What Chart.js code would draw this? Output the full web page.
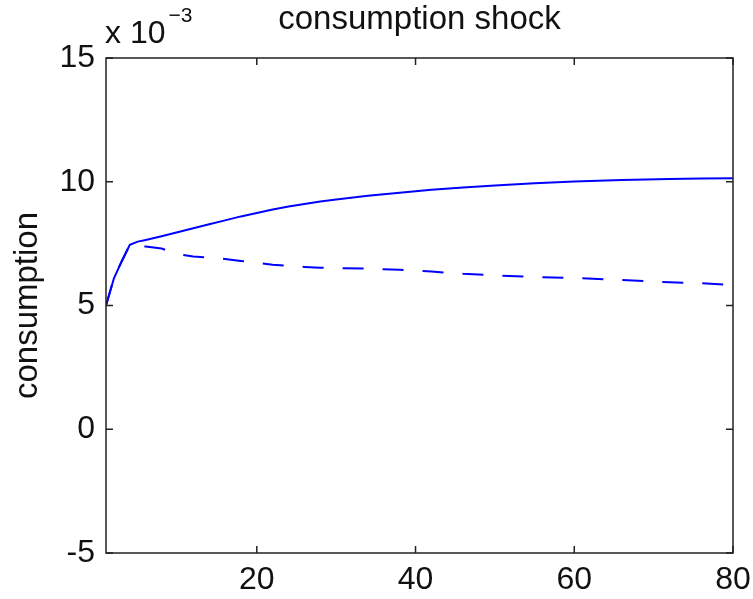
<!DOCTYPE html>
<html>
<head>
<meta charset="utf-8">
<title>consumption shock</title>
<script src="https://cdn.jsdelivr.net/npm/chart.js@4.4.0/dist/chart.umd.min.js"></script>
<style>
  body { margin: 0; background: #fff; }
  #chart { display: block; }
</style>
</head>
<body>
<canvas id="chart" width="753" height="599"></canvas>
<script>
// periods after the shock, responses are in units of 1e-3
var periods = [1, 2, 3, 4, 5, 6, 8, 10, 12, 14, 16, 18, 20, 22, 24, 26, 28, 30, 34, 38, 42, 46, 50, 55, 60, 66, 72, 76, 80];
// solid line
var consSolid = [5.0, 6.1, 6.8, 7.45, 7.58, 7.65, 7.8, 7.96, 8.12, 8.28, 8.44, 8.6, 8.74, 8.88, 9.0, 9.1, 9.2, 9.28, 9.43, 9.56, 9.68, 9.77, 9.85, 9.94, 10.01, 10.07, 10.11, 10.13, 10.14];
// dashed line
var consDashed = [5.0, 6.1, 6.8, 7.45, 7.42, 7.38, 7.3, 7.08, 6.98, 6.93, 6.88, 6.8, 6.72, 6.65, 6.6, 6.56, 6.53, 6.51, 6.49, 6.44, 6.37, 6.28, 6.22, 6.15, 6.11, 6.03, 5.94, 5.9, 5.82];

var xTicks = [20, 40, 60, 80];
var yTicks = [-5, 0, 5, 10, 15];

var titleText = 'consumption shock';
var yLabel = 'consumption';
var fontName = '"Liberation Sans", Arial, Helvetica, sans-serif';

function toPoints(xs, ys) {
    return xs.map(function (x, i) { return { x: x, y: ys[i] }; });
}

// matlab style box with inward ticks on all sides, plus title, ylabel and exponent
var matlabAxes = {
    id: 'matlabAxes',
    afterDatasetsDraw: function (chart) {
        var ctx = chart.ctx;
        var a = chart.chartArea;
        var sx = chart.scales.x, sy = chart.scales.y;
        var len = 7;
        ctx.save();
        ctx.strokeStyle = '#222';
        ctx.lineWidth = 1.5;
        ctx.strokeRect(a.left, a.top, a.right - a.left, a.bottom - a.top);
        ctx.beginPath();
        xTicks.forEach(function (v) {
            var px = sx.getPixelForValue(v);
            ctx.moveTo(px, a.bottom); ctx.lineTo(px, a.bottom - len);
            ctx.moveTo(px, a.top); ctx.lineTo(px, a.top + len);
        });
        yTicks.forEach(function (v) {
            var py = sy.getPixelForValue(v);
            ctx.moveTo(a.left, py); ctx.lineTo(a.left + len, py);
            ctx.moveTo(a.right, py); ctx.lineTo(a.right - len, py);
        });
        ctx.stroke();

        ctx.fillStyle = '#111';
        // title
        ctx.font = '33px ' + fontName;
        ctx.textAlign = 'center';
        ctx.textBaseline = 'alphabetic';
        ctx.fillText(titleText, (a.left + a.right) / 2, 29);

        // y label
        ctx.save();
        ctx.translate(28, (a.top + a.bottom) / 2);
        ctx.rotate(-Math.PI / 2);
        ctx.textBaseline = 'middle';
        ctx.fillText(yLabel, 0, 0);
        ctx.restore();

        // x 10^-3
        ctx.textAlign = 'left';
        ctx.font = '32px ' + fontName;
        ctx.fillText('x 10', a.left - 1, 43);
        var w = ctx.measureText('x 10').width;
        ctx.font = '21px ' + fontName;
        ctx.fillText('\u22123', a.left - 1 + w + 3, 22);
        ctx.restore();
    }
};

var ctx = document.getElementById('chart').getContext('2d');
var chart = new Chart(ctx, {
    type: 'line',
    data: {
        datasets: [{
            label: 'solid',
            data: toPoints(periods, consSolid),
            borderColor: '#0000ff',
            borderWidth: 2,
            pointRadius: 0,
            tension: 0,
            fill: false
        }, {
            label: 'dashed',
            data: toPoints(periods, consDashed),
            borderColor: '#0000ff',
            borderWidth: 2,
            borderDash: [21, 19],
            pointRadius: 0,
            tension: 0,
            fill: false
        }]
    },
    options: {
        responsive: false,
        animation: false,
        devicePixelRatio: 1,
        layout: { padding: { top: 58, right: 20, left: 0, bottom: 0 } },
        plugins: {
            legend: { display: false },
            tooltip: { enabled: false }
        },
        scales: {
            x: {
                type: 'linear',
                min: 1,
                max: 80,
                grid: { display: false, drawTicks: false },
                border: { display: false },
                ticks: {
                    color: '#111',
                    padding: 8,
                    maxRotation: 0,
                    font: { family: fontName, size: 32 }
                },
                afterBuildTicks: function (scale) {
                    scale.ticks = xTicks.map(function (v) { return { value: v }; });
                },
                afterFit: function (scale) {
                    scale.height = 46;
                    scale.paddingLeft = 0;
                    scale.paddingRight = 0;
                }
            },
            y: {
                min: -5,
                max: 15,
                grid: { display: false, drawTicks: false },
                border: { display: false },
                ticks: {
                    color: '#111',
                    padding: 11,
                    font: { family: fontName, size: 32 }
                },
                afterBuildTicks: function (scale) {
                    scale.ticks = yTicks.map(function (v) { return { value: v }; });
                },
                afterFit: function (scale) {
                    scale.width = 106;
                    scale.paddingTop = 0;
                    scale.paddingBottom = 0;
                }
            }
        }
    },
    plugins: [matlabAxes]
});
</script>
</body>
</html>
